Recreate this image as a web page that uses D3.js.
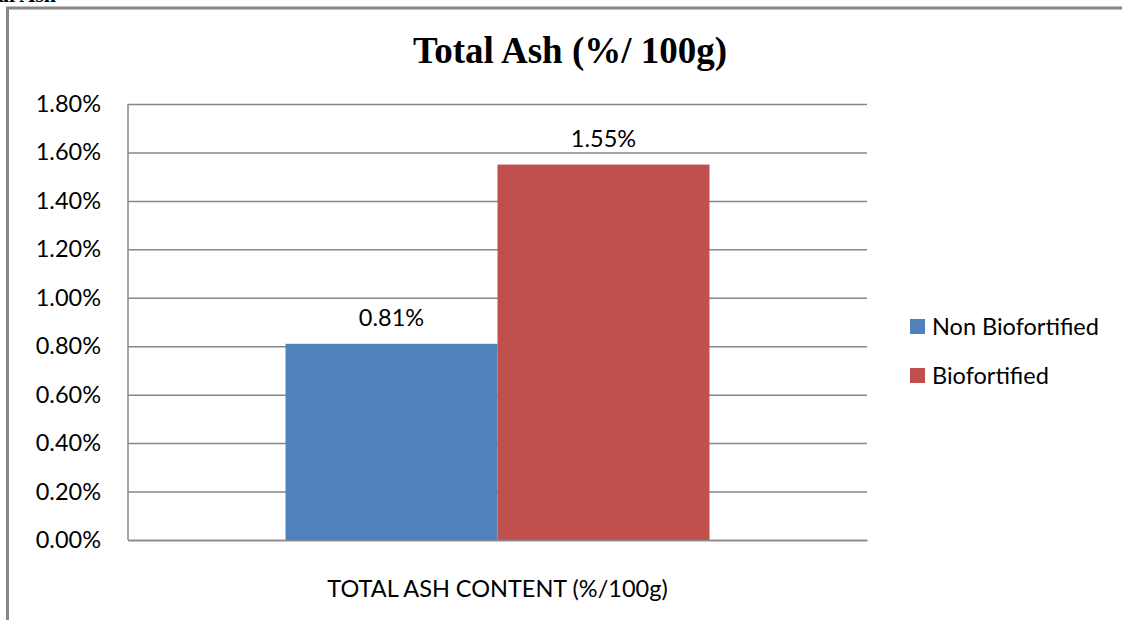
<!DOCTYPE html>
<html><head><meta charset="utf-8">
<script src="https://cdn.jsdelivr.net/npm/d3@7"></script>
<style>body{margin:0;background:#fff}svg{display:block}</style>
</head><body>
<svg id="c" width="1122" height="620"></svg>
<script>
const categories = ["TOTAL ASH CONTENT (%/100g)"];
const seriesNames = ["Non Biofortified", "Biofortified"];
const nonBiofortified = [0.0081];
const biofortified = [0.0155];
const yTicks = [0, 0.002, 0.004, 0.006, 0.008, 0.010, 0.012, 0.014, 0.016, 0.018];
const colors = ["#4F81BD", "#C0504D"];

const seriesValues = [nonBiofortified, biofortified];
const svg = d3.select("#c");
const W = 1122, H = 620;
const m = {left:128, right:867, top:104, bottom:540};
const sans = "Lato, 'Open Sans', sans-serif";
const serif = "'Liberation Serif', 'Times New Roman', serif";
const fs = 23.5;

// chart frame (partially off-canvas)
svg.append("rect").attr("x",7.5).attr("y",8).attr("width",W+20).attr("height",H+20)
  .attr("fill","none").attr("stroke","#878787").attr("stroke-width",3);

// cut-off heading above frame
svg.append("text").attr("x",56).attr("y",2).attr("text-anchor","end")
  .attr("font-family",serif).attr("font-weight","bold").attr("font-size",22)
  .text("Total Ash");

const y = d3.scaleLinear().domain([0, 0.018]).range([m.bottom, m.top]);
const x0 = d3.scaleBand().domain(categories).range([m.left, m.right]).paddingOuter(0.3715).paddingInner(0);
const x1 = d3.scaleBand().domain(seriesNames).range([0, x0.bandwidth()]).padding(0);

// gridlines
const yAxis = d3.axisLeft(y).tickValues(yTicks).tickSize(-(m.right-m.left)).tickPadding(27).tickFormat(d3.format(".2%"));
const gy = svg.append("g").attr("transform",`translate(${m.left},0)`).call(yAxis);
gy.select(".domain").remove();
gy.selectAll(".tick line").attr("stroke","#878787").attr("stroke-width",1.5);
gy.selectAll(".tick text").attr("font-family",sans).attr("font-size",fs).attr("fill","#000");

// bars
const g = svg.append("g");
categories.forEach((c, ci) => {
  seriesNames.forEach((s, si) => {
    const v = seriesValues[si][ci];
    const bx = x0(c) + x1(s);
    g.append("rect").attr("x",bx).attr("y",y(v)).attr("width",x1.bandwidth()).attr("height",y(0)-y(v))
      .attr("fill",colors[si]);
    g.append("text").attr("x",bx + x1.bandwidth()/2).attr("y",y(v)-18).attr("text-anchor","middle")
      .attr("font-family",sans).attr("font-size",fs).attr("fill","#000")
      .text(d3.format(".2%")(v));
  });
});

// axes lines
svg.append("line").attr("x1",m.left).attr("x2",m.left).attr("y1",m.top).attr("y2",m.bottom)
  .attr("stroke","#878787").attr("stroke-width",1.5);
const xAxis = d3.axisBottom(x0).tickSize(0).tickPadding(40);
const gx = svg.append("g").attr("transform",`translate(0,${m.bottom})`).call(xAxis);
gx.select(".domain").attr("stroke","#878787").attr("stroke-width",1.5);
gx.selectAll(".tick text").attr("font-family",sans).attr("font-size",fs).attr("fill","#000");

// title
svg.append("text").attr("x",570).attr("y",63).attr("text-anchor","middle")
  .attr("font-family",serif).attr("font-weight","bold").attr("font-size",37)
  .text("Total Ash (%/ 100g)");

// legend
const lg = svg.append("g");
seriesNames.forEach((s, i) => {
  const ly = 319 + i*49;
  lg.append("rect").attr("x",910).attr("y",ly).attr("width",15).attr("height",15).attr("fill",colors[i]);
  lg.append("text").attr("x",932).attr("y",ly+7.5).attr("dy","0.35em")
    .attr("font-family",sans).attr("font-size",fs).attr("fill","#000").text(s);
});
</script>
</body></html>
